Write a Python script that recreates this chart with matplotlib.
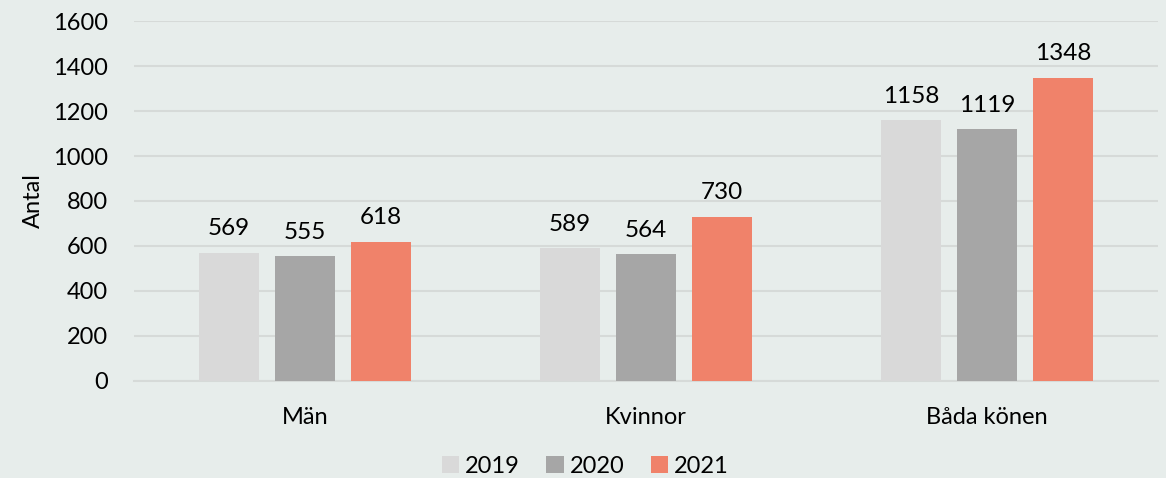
import numpy as np
import matplotlib
matplotlib.use('Agg')
import matplotlib.pyplot as plt

plt.rcParams['font.family'] = ['Lato', 'DejaVu Sans']

categories = ['Män', 'Kvinnor', 'Båda könen']
years = ['2019', '2020', '2021']
v2019 = [569, 589, 1158]
v2020 = [555, 564, 1119]
v2021 = [618, 730, 1348]
colors = ['#D9D9D9', '#A6A6A6', '#F0826A']
bg = '#E7EDEB'

fig = plt.figure(figsize=(11.66, 4.78), dpi=100, facecolor=bg)
ax = fig.add_axes([0.115, 0.203, 0.878, 0.753], facecolor=bg)

x = np.arange(len(categories))
w = 0.176
step = 0.223
for i, (vals, yr) in enumerate(zip([v2019, v2020, v2021], years)):
    pos = x + (i - 1) * step
    bars = ax.bar(pos, vals, width=w, color=colors[i], label=yr, zorder=3)
    for b, v in zip(bars, vals):
        ax.text(b.get_x() + b.get_width() / 2, v + 60, str(v),
                ha='center', va='bottom', fontsize=17.5, color='black')

ax.set_xlim(-0.5, 2.5)
ax.set_ylim(0, 1600)
ax.set_yticks(np.arange(0, 1601, 200))
ax.yaxis.grid(True, color='#D6DAD8', linewidth=1.5, zorder=0)
ax.set_xticks(x)
ax.set_xticklabels(categories)
ax.tick_params(axis='both', length=0, labelsize=17, colors='black')
ax.tick_params(axis='x', pad=19)
ax.tick_params(axis='y', pad=19)
for s in ['top', 'right', 'left']:
    ax.spines[s].set_visible(False)
ax.spines['bottom'].set_color('#D6DAD8')
ax.spines['bottom'].set_linewidth(1.5)
ax.set_ylabel('Antal', fontsize=17, labelpad=6)

fig.legend(*ax.get_legend_handles_labels(), loc='center', bbox_to_anchor=(0.502, 0.024),
           ncol=3, frameon=False, fontsize=17, handlelength=0.75, handleheight=0.75,
           handletextpad=0.25, columnspacing=1.1, borderpad=0)

fig.savefig('out.png', dpi=100, facecolor=bg)
